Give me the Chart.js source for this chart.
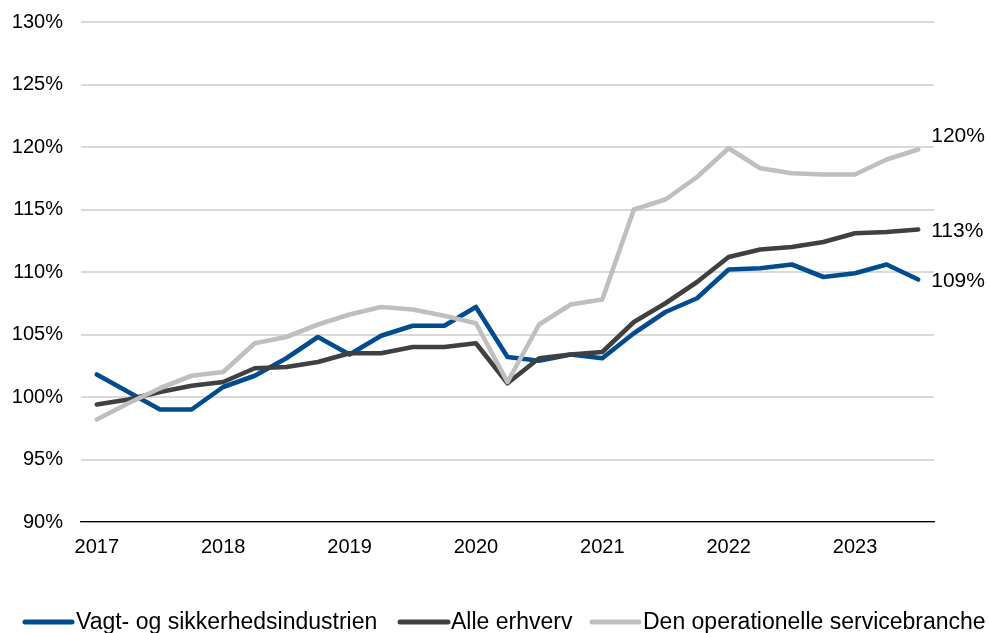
<!DOCTYPE html>
<html>
<head>
<meta charset="utf-8">
<script src="https://cdn.jsdelivr.net/npm/chart.js@4"></script>
<style>
html,body{margin:0;padding:0;background:#fff;}
#wrap{width:989px;height:633px;position:relative;}
</style>
</head>
<body>
<div id="wrap"><canvas id="c"></canvas></div>
<script>
const categories = ["2017","","","","2018","","","","2019","","","","2020","","","","2021","","","","2022","","","","2023","",""];
const seriesNames = ["Vagt- og sikkerhedsindustrien","Alle erhverv","Den operationelle servicebranche"];
const vagt = [101.8,100.4,99.0,99.0,100.8,101.7,103.1,104.8,103.4,104.9,105.7,105.7,107.2,103.2,102.9,103.4,103.1,105.1,106.8,107.9,110.2,110.3,110.6,109.6,109.9,110.6,109.4];
const alle = [99.4,99.8,100.4,100.9,101.2,102.3,102.4,102.8,103.5,103.5,104.0,104.0,104.3,101.1,103.1,103.4,103.6,106.0,107.5,109.2,111.2,111.8,112.0,112.4,113.1,113.2,113.4];
const operationel = [98.2,99.5,100.7,101.7,102.0,104.3,104.8,105.8,106.6,107.2,107.0,106.5,105.9,101.2,105.8,107.4,107.8,115.0,115.8,117.6,119.9,118.3,117.9,117.8,117.8,119.0,119.8];
const yTicks = [90,95,100,105,110,115,120,125,130];

const colors = ['#004C8E','#404040','#BFBFBF'];
const labelOffsets = [2,2,-13];

const endLabels = {
  id:'endLabels',
  afterDatasetsDraw(chart){
    const ctx = chart.ctx;
    ctx.save();
    ctx.font = '21px "Liberation Sans", Arial, sans-serif';
    ctx.fillStyle = '#000';
    ctx.textBaseline = 'middle';
    ctx.textAlign = 'left';
    chart.data.datasets.forEach((ds,i)=>{
      const meta = chart.getDatasetMeta(i);
      const p = meta.data[meta.data.length-1];
      const v = ds.data[ds.data.length-1];
      ctx.fillText(Math.round(v)+'%', p.x+13, p.y+labelOffsets[i]);
    });
    ctx.restore();
  }
};

const customLegend = {
  id:'customLegend',
  afterDraw(chart){
    const ctx = chart.ctx;
    const xs = [[25,72,76],[400,448,451],[592,639,643]];
    const y = 622;
    ctx.save();
    ctx.font = '23px "Liberation Sans", Arial, sans-serif';
    ctx.textBaseline = 'middle';
    ctx.textAlign = 'left';
    chart.data.datasets.forEach((ds,i)=>{
      ctx.strokeStyle = ds.borderColor;
      ctx.lineWidth = 5;
      ctx.lineCap = 'round';
      ctx.beginPath();
      ctx.moveTo(xs[i][0], y);
      ctx.lineTo(xs[i][1], y);
      ctx.stroke();
      ctx.fillStyle = '#000';
      ctx.fillText(ds.label, xs[i][2], y+1);
    });
    ctx.restore();
  }
};

const mk = (label, data, color, order) => ({
  label, data, borderColor: color, backgroundColor: color,
  borderWidth: 4.6, pointRadius: 0, tension: 0, fill: false,
  borderCapStyle: 'round', borderJoinStyle: 'round', order
});

new Chart(document.getElementById('c'), {
  type: 'line',
  data: {
    labels: categories,
    datasets: [
      mk(seriesNames[0], vagt, colors[0], 3),
      mk(seriesNames[1], alle, colors[1], 2),
      mk(seriesNames[2], operationel, colors[2], 1)
    ]
  },
  options: {
    responsive: true,
    maintainAspectRatio: false,
    animation: false,
    layout: { padding: { top: 22, right: 55, left: 0, bottom: 0 } },
    plugins: { legend: { display: false }, tooltip: { enabled: false } },
    scales: {
      x: {
        type: 'category',
        offset: true,
        grid: { display: false, drawTicks: false },
        border: { display: true, color: '#000', width: 1.3 },
        ticks: {
          autoSkip: false, maxRotation: 0, minRotation: 0, padding: 13,
          color: '#000', font: { family: '"Liberation Sans", Arial, sans-serif', size: 20 }
        },
        afterFit(s){ s.height = 111; s.paddingLeft = 0; s.paddingRight = 0; }
      },
      y: {
        min: 90, max: 130,
        afterBuildTicks(s){ s.ticks = yTicks.map(v=>({value:v})); },
        grid: { color: '#D9D9D9', lineWidth: 2, drawTicks: false },
        border: { display: false },
        ticks: {
          padding: 18, color: '#000',
          font: { family: '"Liberation Sans", Arial, sans-serif', size: 20 },
          callback: v => v + '%'
        },
        afterFit(s){ s.width = 81; s.paddingTop = 0; s.paddingBottom = 0; }
      }
    }
  },
  plugins: [endLabels, customLegend]
});
</script>
</body>
</html>
